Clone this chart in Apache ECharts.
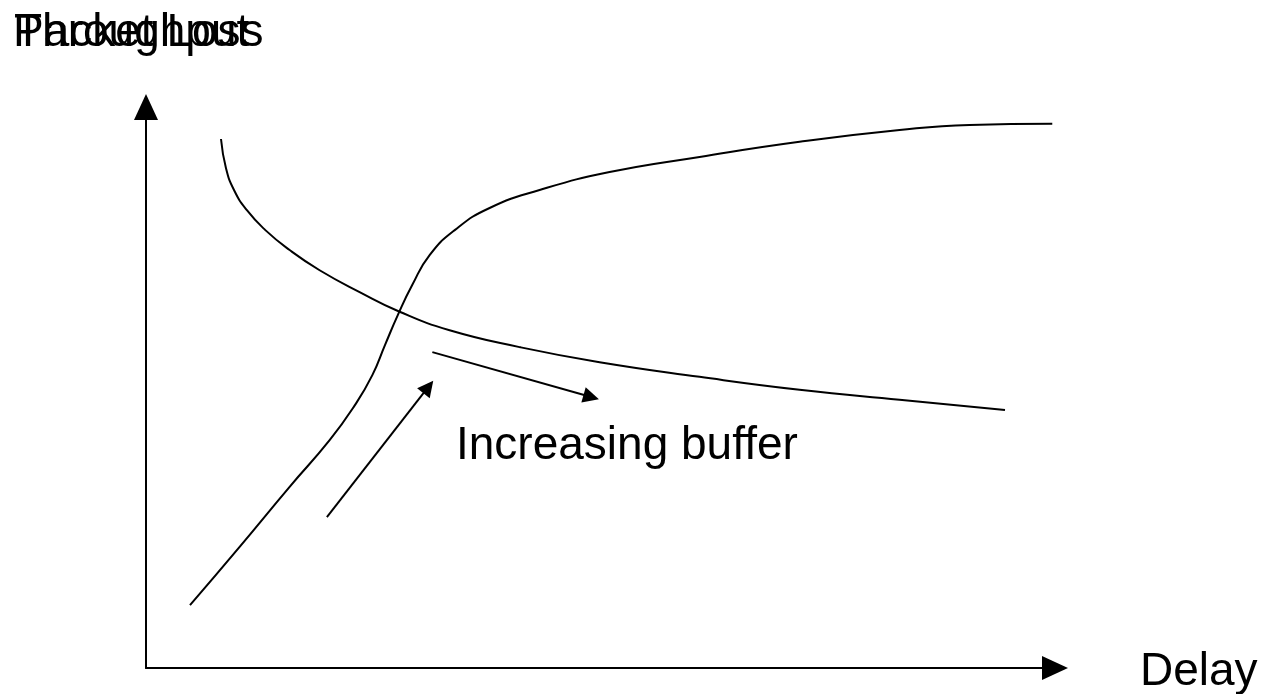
<!DOCTYPE html>
<html>
<head>
<meta charset="utf-8">
<script src="https://cdn.jsdelivr.net/npm/echarts@6/dist/echarts.min.js"></script>
<style>html,body{margin:0;padding:0;background:#fff}#c{width:1268px;height:694px}</style>
</head>
<body>
<div id="c"></div>
<script>
// Data (abstract units, 0..100 on both axes)
var packetLoss = [[8.25,94.3],[8.80,89.1],[9.68,85.2],[11.1,81.6],[13.1,78.1],[15.8,74.5],[19.1,70.9],[23.5,67.0],[27.9,63.5],[33.4,60.2],[41.1,57.2],[49.9,54.5],[60.9,51.9],[71.9,49.6],[82.9,47.8],[94.5,46.0]];
var throughput = [[4.84,11.2],[10.3,21.6],[15.8,32.3],[20.2,40.6],[23.0,46.9],[24.9,52.2],[26.3,57.6],[27.7,62.9],[29.3,68.3],[31.2,73.6],[34.0,78.1],[37.8,82.0],[43.3,85.2],[51.0,88.4],[60.9,91.1],[71.9,93.8],[82.9,95.9],[90.6,96.8],[99.7,97.0]];
var arrowUp = [[19.9,26.9],[31.06,50.1]];
var arrowRight = [[31.5,56.3],[48.98,48.3]];
var labels = {y1:'Throughput', y2:'Packet Loss', x:'Delay', note:'Increasing buffer'};

var font = 'Liberation Sans, Arial, Helvetica, sans-serif';
var chart = echarts.init(document.getElementById('c'));
var axisCommon = {
  type:'value', min:0, max:100,
  axisLine:{show:true, onZero:false, symbol:['none','triangle'], symbolSize:[24,26], lineStyle:{color:'#000', width:2}},
  axisTick:{show:false}, axisLabel:{show:false}, splitLine:{show:false}
};
chart.setOption({
  animation:false,
  backgroundColor:'#fff',
  grid:{left:146, right:213, top:107, bottom:26},
  xAxis: axisCommon,
  yAxis: axisCommon,
  graphic:[
    {type:'text', left:14, top:10, style:{text:labels.y1, font:'46px '+font, fill:'#000'}},
    {type:'text', left:13, top:10, style:{text:labels.y2, font:'46px '+font, fill:'#000'}},
    {type:'text', left:1140, top:649, style:{text:labels.x, font:'46px '+font, fill:'#000'}},
    {type:'text', left:456, top:423, style:{text:labels.note, font:'46px '+font, fill:'#000'}}
  ],
  series:[
    {type:'line', data:packetLoss, smooth:0.5, showSymbol:false, lineStyle:{color:'#000', width:2}},
    {type:'line', data:throughput, smooth:0.5, showSymbol:false, lineStyle:{color:'#000', width:2}},
    {type:'lines', coordinateSystem:'cartesian2d', symbol:['none','triangle'], symbolSize:16,
      lineStyle:{color:'#000', width:2, opacity:1}, itemStyle:{color:'#000'},
      data:[{coords:arrowUp},{coords:arrowRight}]}
  ]
});
</script>
</body>
</html>
